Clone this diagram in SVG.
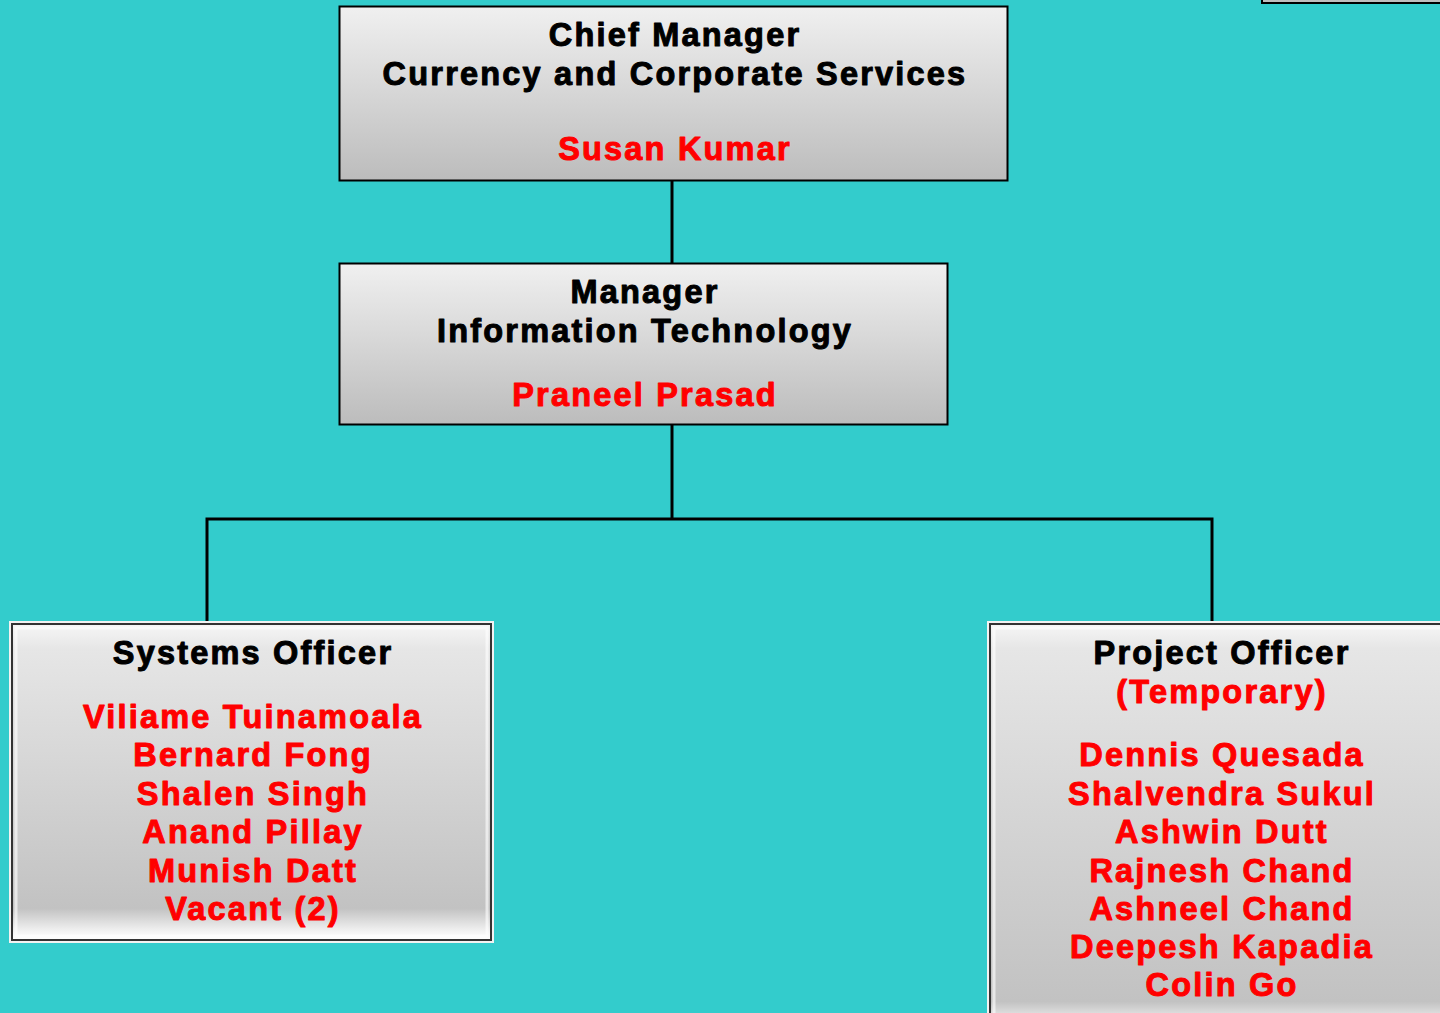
<svg xmlns="http://www.w3.org/2000/svg" width="1440" height="1013" viewBox="0 0 1440 1013">
<defs>
<linearGradient id="g1" x1="0" y1="0" x2="0" y2="1">
<stop offset="0" stop-color="#f0f0f0"/>
<stop offset="1" stop-color="#bcbcbc"/>
</linearGradient>
<linearGradient id="g2" x1="0" y1="0" x2="0" y2="1">
<stop offset="0" stop-color="#f6f6f6"/>
<stop offset="0.08" stop-color="#e6e6e6"/>
<stop offset="0.9" stop-color="#c2c2c2"/>
<stop offset="0.975" stop-color="#f4f4f4"/>
<stop offset="1" stop-color="#ffffff"/>
</linearGradient>
<linearGradient id="g3" x1="0" y1="0" x2="0" y2="1">
<stop offset="0" stop-color="#f6f6f6"/>
<stop offset="0.06" stop-color="#e6e6e6"/>
<stop offset="0.93" stop-color="#c2c2c2"/>
<stop offset="0.985" stop-color="#f4f4f4"/>
<stop offset="1" stop-color="#ffffff"/>
</linearGradient>
</defs>
<style>
text{font-family:"Liberation Sans",Arial,sans-serif;font-weight:bold;font-size:32.5px;text-anchor:middle;letter-spacing:2.2px;stroke-width:1px;stroke-linejoin:round}
.k{fill:#000;stroke:#000}
.r{fill:#ff0000;stroke:#ff0000}
.box{fill:url(#g1);stroke:#000;stroke-width:2}
.conn{stroke:#000;stroke-width:3;fill:none}
.outer{fill:none;stroke:#f2f2f2;stroke-width:2}
.inner{stroke:#333;stroke-width:2}
.hl{fill:none;stroke:#ffffff;stroke-opacity:0.6;stroke-width:3}
</style>
<rect x="0" y="0" width="1440" height="1013" fill="#33CCCC"/>
<g id="connectors">
<line class="conn" x1="672" y1="181" x2="672" y2="263"/>
<line class="conn" x1="672" y1="425" x2="672" y2="519"/>
<polyline class="conn" points="207,623 207,519 1212,519 1212,623"/>
</g>
<g id="top-right">
<rect class="box" x="1262" y="-50" width="200" height="53"/>
</g>
<g id="chief-manager">
<rect class="box" x="339.5" y="6.5" width="668" height="174"/>
<text class="k" x="675" y="46">Chief Manager</text>
<text class="k" x="675" y="85">Currency and Corporate Services</text>
<text class="r" x="675" y="160">Susan Kumar</text>
</g>
<g id="manager-it">
<rect class="box" x="339.5" y="263.5" width="608" height="161"/>
<text class="k" x="645" y="303">Manager</text>
<text class="k" x="645" y="342">Information Technology</text>
<text class="r" x="645" y="406">Praneel Prasad</text>
</g>
<g id="systems-officer">
<rect class="outer" x="10" y="622" width="483" height="320"/>
<rect class="inner" x="12" y="624" width="479" height="316" fill="url(#g2)"/>
<rect class="hl" x="16" y="628" width="471" height="308"/>
<text class="k" x="253" y="664">Systems Officer</text>
<text class="r" x="253" y="728">Viliame Tuinamoala</text>
<text class="r" x="253" y="766">Bernard Fong</text>
<text class="r" x="253" y="805">Shalen Singh</text>
<text class="r" x="253" y="843">Anand Pillay</text>
<text class="r" x="253" y="882">Munish Datt</text>
<text class="r" x="253" y="920">Vacant (2)</text>
</g>
<g id="project-officer">
<rect class="outer" x="988" y="622" width="470" height="410"/>
<rect class="inner" x="990" y="624" width="466" height="406" fill="url(#g3)"/>
<rect class="hl" x="994" y="628" width="458" height="398"/>
<text class="k" x="1222" y="664">Project Officer</text>
<text class="r" x="1222" y="703">(Temporary)</text>
<text class="r" x="1222" y="766">Dennis Quesada</text>
<text class="r" x="1222" y="805">Shalvendra Sukul</text>
<text class="r" x="1222" y="843">Ashwin Dutt</text>
<text class="r" x="1222" y="882">Rajnesh Chand</text>
<text class="r" x="1222" y="920">Ashneel Chand</text>
<text class="r" x="1222" y="958">Deepesh Kapadia</text>
<text class="r" x="1222" y="996">Colin Go</text>
</g>
</svg>
